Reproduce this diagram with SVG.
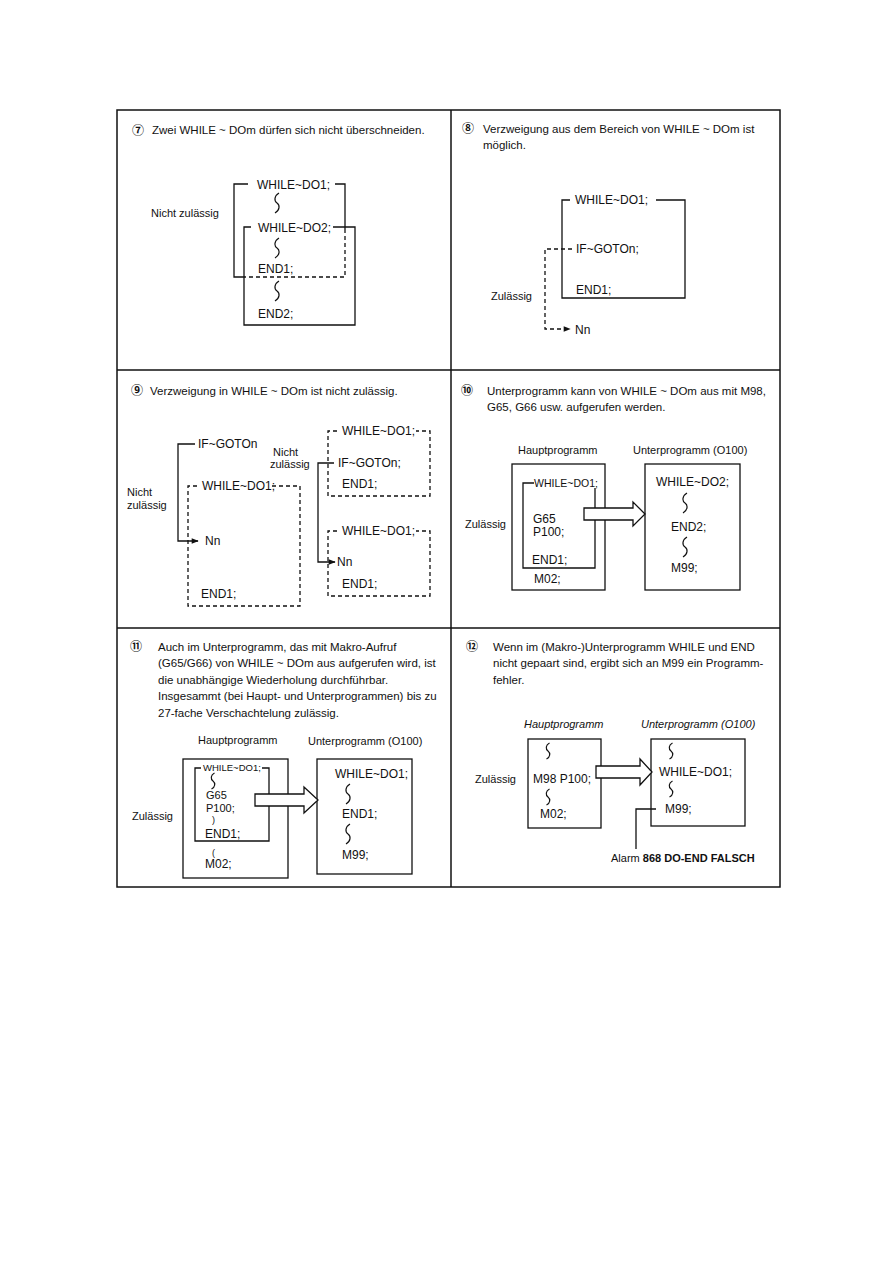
<svg xmlns="http://www.w3.org/2000/svg" width="893" height="1263" viewBox="0 0 893 1263">
<defs>
<style>
text{font-family:"Liberation Sans",Arial,sans-serif;fill:#111;}
.h{font-size:11.5px;}
.p{font-size:12px;}
.l{font-size:11px;}
.s{font-size:9.5px;}
.it{font-style:italic;}
.num{font-family:"Noto Sans CJK JP","DejaVu Sans",sans-serif;font-size:12px;font-weight:bold;text-anchor:middle;}
.ln{fill:none;stroke:#111;stroke-width:1.3;}
.ds{fill:none;stroke:#111;stroke-width:1.3;stroke-dasharray:4 3;}
.fr{fill:none;stroke:#111;stroke-width:1.5;}
.ar{fill:#fff;stroke:#111;stroke-width:1.3;}
.sq{fill:none;stroke:#111;stroke-width:1.2;}
</style>
<marker id="ah" viewBox="0 0 10 10" refX="9" refY="5" markerWidth="9" markerHeight="7" markerUnits="userSpaceOnUse" orient="auto">
<path d="M0,1 L10,5 L0,9 Z" fill="#111"/>
</marker>
<path id="sqg" d="M2,0 C-3,3 -3,8 0,10 C3,12 3,17 -2,20"/>
<path id="sqs" d="M1.5,0 C-2.5,2 -2.5,6 0,8 C2.5,10 2.5,14 -1.5,16"/>
</defs>
<rect width="893" height="1263" fill="#fff"/>
<g id="frame">
<rect class="fr" x="117" y="110" width="663" height="777"/>
<line class="fr" x1="451" y1="110" x2="451" y2="887"/>
<line class="fr" x1="117" y1="370" x2="780" y2="370"/>
<line class="fr" x1="117" y1="628" x2="780" y2="628"/>
</g>

<!-- Panel 7 -->
<g id="panel7">
<text class="num" x="138" y="135">⑦</text>
<text class="h" x="152" y="134">Zwei WHILE ~ DOm dürfen sich nicht überschneiden.</text>
<text class="l" x="151" y="217">Nicht zulässig</text>
<g id="p7-loop1">
<path class="ln" d="M248,184 H234 V277 H245"/>
<path class="ln" d="M335,184 H345 V229"/>
<path class="ds" d="M345,229 V277 H245"/>
<text class="p" x="257" y="189">WHILE~DO1;</text>
<text class="p" x="258" y="273">END1;</text>
<use href="#sqg" class="sq" x="277" y="193"/>
</g>
<g id="p7-loop2">
<path class="ln" d="M251,227 H244 V325 H355 V227 H333"/>
<text class="p" x="258" y="232">WHILE~DO2;</text>
<use href="#sqg" class="sq" x="277" y="238"/>
<use href="#sqg" class="sq" x="277" y="281"/>
<text class="p" x="258" y="318">END2;</text>
</g>
</g>

<!-- Panel 8 -->
<g id="panel8">
<text class="num" x="468" y="133">⑧</text>
<text class="h" x="483" y="133">Verzweigung aus dem Bereich von WHILE ~ DOm ist</text>
<text class="h" x="483" y="149">möglich.</text>
<g id="p8-loop">
<path class="ln" d="M570,200 H562 V298 H685 V200 H656"/>
<text class="p" x="575" y="204">WHILE~DO1;</text>
<text class="p" x="576" y="253">IF~GOTOn;</text>
<text class="p" x="576" y="294">END1;</text>
</g>
<g id="p8-target"><text class="p" x="575" y="334">Nn</text></g>
<text class="l" x="491" y="300">Zulässig</text>
<g id="p8-connectors">
<path class="ds" d="M572,249 H545 V329 H570" marker-end="url(#ah)"/>
</g>
</g>

<!-- Panel 9 -->
<g id="panel9">
<text class="num" x="137" y="395">⑨</text>
<text class="h" x="150" y="395">Verzweigung in WHILE ~ DOm ist nicht zulässig.</text>
<g id="p9-if"><text class="p" x="198" y="448">IF~GOTOn</text></g>
<g id="p9-loop">
<path class="ds" d="M197,486 H188 V606 H300 V486 H271"/>
<text class="p" x="202" y="490">WHILE~DO1;</text>
<text class="p" x="205" y="545">Nn</text>
<text class="p" x="201" y="598">END1;</text>
</g>
<text class="l" x="127" y="496">Nicht</text>
<text class="l" x="127" y="509">zulässig</text>
<g id="p9-loopA">
<path class="ds" d="M337,431 H328 V496 H430 V431 H416"/>
<text class="p" x="342" y="435">WHILE~DO1;</text>
<text class="p" x="338" y="467">IF~GOTOn;</text>
<text class="p" x="342" y="488">END1;</text>
</g>
<g id="p9-loopB">
<path class="ds" d="M337,531 H328 V596 H430 V531 H416"/>
<text class="p" x="342" y="535">WHILE~DO1;</text>
<text class="p" x="337" y="566">Nn</text>
<text class="p" x="342" y="588">END1;</text>
</g>
<text class="l" x="273" y="456">Nicht</text>
<text class="l" x="270" y="468">zulässig</text>
<g id="p9-connectors">
<path class="ln" d="M195,444 H178 V541 H198" marker-end="url(#ah)"/>
<path class="ln" d="M334,463 H318 V562 H335" marker-end="url(#ah)"/>
</g>
</g>

<!-- Panel 10 -->
<g id="panel10">
<text class="num" x="467" y="395">⑩</text>
<text class="h" x="487" y="395">Unterprogramm kann von WHILE ~ DOm aus mit M98,</text>
<text class="h" x="487" y="411">G65, G66 usw. aufgerufen werden.</text>
<text class="l" x="518" y="454">Hauptprogramm</text>
<text class="l" x="633" y="454">Unterprogramm (O100)</text>
<text class="l" x="465" y="528">Zulässig</text>
<g id="p10-main">
<rect class="ln" x="512" y="464" width="93" height="126"/>
<path class="ln" d="M534,483 H523 V568 H595 V488"/>
<text style="font-size:10.5px" x="534" y="487">WHILE~DO1;</text>
<text class="p" x="533" y="523">G65</text>
<text class="p" x="533" y="536">P100;</text>
<text class="p" x="532" y="564">END1;</text>
<text class="p" x="534" y="583">M02;</text>
</g>
<g id="p10-sub">
<rect class="ln" x="645" y="464" width="95" height="126"/>
<text class="p" x="656" y="486">WHILE~DO2;</text>
<use href="#sqg" class="sq" x="685" y="493"/>
<text class="p" x="671" y="531">END2;</text>
<use href="#sqg" class="sq" x="685" y="537"/>
<text class="p" x="671" y="572">M99;</text>
</g>
<g id="p10-connectors">
<polygon class="ar" points="584,508 633,508 633,502 645,514 633,526 633,520 584,520"/>
</g>
</g>

<!-- Panel 11 -->
<g id="panel11">
<text class="num" x="136" y="651">⑪</text>
<text class="h" x="158" y="651">Auch im Unterprogramm, das mit Makro-Aufruf</text>
<text class="h" x="158" y="667">(G65/G66) von WHILE ~ DOm aus aufgerufen wird, ist</text>
<text class="h" x="158" y="684">die unabhängige Wiederholung durchführbar.</text>
<text class="h" x="158" y="700">Insgesammt (bei Haupt- und Unterprogrammen) bis zu</text>
<text class="h" x="158" y="717">27-fache Verschachtelung zulässig.</text>
<text class="l" x="198" y="744">Hauptprogramm</text>
<text class="l" x="308" y="745">Unterprogramm (O100)</text>
<text class="l" x="132" y="820">Zulässig</text>
<g id="p11-main">
<rect class="ln" x="183" y="759" width="105" height="119"/>
<path class="ln" d="M201,768 H195 V841 H269 V768 H262"/>
<text class="s" x="203" y="771">WHILE~DO1;</text>
<use href="#sqs" class="sq" x="213" y="773"/>
<text style="font-size:11px" x="206" y="799">G65</text>
<text style="font-size:11px" x="206" y="811.5">P100;</text>
<text style="font-size:9px" x="212" y="823">)</text>
<text class="p" x="205" y="838">END1;</text>
<text style="font-size:9px" x="212" y="856">(</text>
<text class="p" x="205" y="868">M02;</text>
</g>
<g id="p11-sub">
<rect class="ln" x="317" y="759" width="95" height="115"/>
<text class="p" x="335" y="778">WHILE~DO1;</text>
<use href="#sqg" class="sq" x="348" y="784"/>
<text class="p" x="342" y="818">END1;</text>
<use href="#sqg" class="sq" x="348" y="824"/>
<text class="p" x="342" y="859">M99;</text>
</g>
<g id="p11-connectors">
<polygon class="ar" points="255,794 304,794 304,787 318,800 304,813 304,806 255,806"/>
</g>
</g>

<!-- Panel 12 -->
<g id="panel12">
<text class="num" x="472" y="651">⑫</text>
<text class="h" x="493" y="651">Wenn im (Makro-)Unterprogramm WHILE und END</text>
<text class="h" x="493" y="667">nicht gepaart sind, ergibt sich an M99 ein Programm-</text>
<text class="h" x="493" y="684">fehler.</text>
<text class="l it" x="524" y="728">Hauptprogramm</text>
<text class="l it" x="641" y="728">Unterprogramm (O100)</text>
<text class="l" x="475" y="783">Zulässig</text>
<g id="p12-main">
<rect class="ln" x="528" y="739" width="73" height="89"/>
<use href="#sqs" class="sq" x="548" y="743"/>
<text class="p" x="533" y="783">M98 P100;</text>
<use href="#sqs" class="sq" x="548" y="789"/>
<text class="p" x="540" y="818">M02;</text>
</g>
<g id="p12-sub">
<rect class="ln" x="651" y="739" width="94" height="87"/>
<use href="#sqs" class="sq" x="671" y="743"/>
<text class="p" x="659" y="776">WHILE~DO1;</text>
<use href="#sqs" class="sq" x="671" y="781"/>
<text class="p" x="665" y="813">M99;</text>
</g>
<g id="p12-alarm">
<text class="l" x="611" y="862">Alarm <tspan font-weight="bold">868 DO-END FALSCH</tspan></text>
</g>
<g id="p12-connectors">
<polygon class="ar" points="596,766 640,766 640,759 652,772 640,785 640,778 596,778"/>
<path class="ln" d="M656,809 H636 V849"/>
</g>
</g>
</svg>
